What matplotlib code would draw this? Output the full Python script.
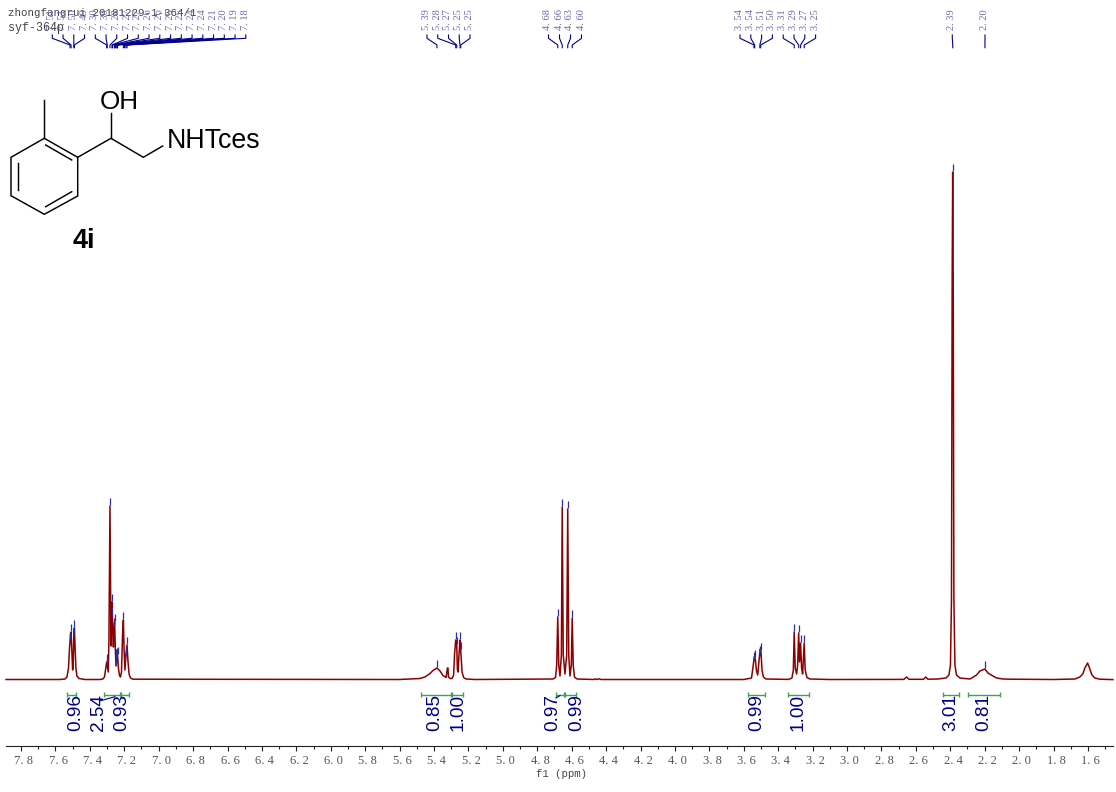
import matplotlib
matplotlib.use('Agg')
import matplotlib.pyplot as plt
from matplotlib.transforms import ScaledTranslation
import numpy as np

# trazas, por zonas (ppm, altura sobre la linea base)
ppm_a = [7.887, 7.573, 7.544, 7.533, 7.524, 7.518, 7.512, 7.509, 7.505, 7.500, 7.497, 7.493, 7.490, 7.486, 7.481, 7.475, 7.463, 7.428, 7.341]
int_a = [0.5, 0.5, 1, 3, 12, 32, 46, 48, 30, 10, 14, 45, 52, 35, 12, 4, 1.5, 0.5, 0.5]
ppm_b = [7.324, 7.315, 7.309, 7.302, 7.293, 7.289, 7.285, 7.283, 7.280, 7.277, 7.274, 7.271, 7.267, 7.263, 7.260, 7.256, 7.252, 7.248, 7.243, 7.239, 7.234, 7.228, 7.222, 7.216, 7.210, 7.205, 7.201, 7.196, 7.190, 7.184, 7.178, 7.172, 7.164, 7.149]
int_b = [1, 3, 10, 18, 8, 40, 130, 174, 110, 34, 50, 78, 50, 33, 50, 58, 32, 14, 20, 25, 12, 5, 3, 8, 45, 60, 30, 10, 25, 35, 18, 6, 2, 0.8]
ppm_c = [5.60, 5.482, 5.453, 5.423, 5.406, 5.383, 5.365, 5.348, 5.330, 5.322, 5.319, 5.316, 5.306, 5.295, 5.286, 5.281, 5.274, 5.268, 5.264, 5.260, 5.255, 5.249, 5.245, 5.237, 5.228, 5.214, 5.162]
int_c = [0.5, 1.5, 3, 6.5, 9.5, 12, 9, 4.5, 2.5, 12, 12, 3, 1.5, 1.5, 5, 25, 40, 35, 10, 8, 25, 40, 30, 8, 2.5, 1, 0.5]
ppm_d = [4.709, 4.694, 4.687, 4.681, 4.675, 4.668, 4.660, 4.655, 4.649, 4.639, 4.629, 4.623, 4.617, 4.610, 4.602, 4.597, 4.591, 4.584, 4.569, 4.47, 4.462, 4.455, 4.44, 4.43]
int_d = [1, 2.5, 15, 63, 15, 4, 25, 173, 25, 6, 25, 171, 25, 4, 15, 62, 15, 3, 1, 0.5, 1.2, 0.5, 1.2, 0.5]
ppm_e = [3.60, 3.555, 3.547, 3.539, 3.533, 3.526, 3.519, 3.511, 3.504, 3.500, 3.494, 3.486, 3.471]
int_e = [0.5, 2, 12, 23, 21, 9, 5, 20, 31, 28, 10, 3, 1]
ppm_f = [3.340, 3.320, 3.312, 3.307, 3.301, 3.293, 3.287, 3.281, 3.276, 3.270, 3.264, 3.258, 3.254, 3.249, 3.243, 3.233, 3.216, 3.10]
int_f = [0.6, 2, 10, 48, 12, 6, 15, 47, 18, 37, 12, 6, 20, 37, 10, 2.5, 1, 0.5]
ppm_g = [2.67, 2.654, 2.640, 2.555, 2.543, 2.530, 2.470, 2.450, 2.425, 2.408, 2.399, 2.393, 2.389, 2.386, 2.383, 2.379, 2.373, 2.364, 2.344, 2.315]
int_g = [0.6, 3, 0.7, 0.7, 3, 0.8, 1, 1.5, 2, 5, 15, 80, 400, 508, 400, 80, 15, 5, 2, 1.5]
ppm_h = [2.286, 2.247, 2.228, 2.199, 2.181, 2.152, 2.131, 2.094, 2.053]
int_h = [1, 5, 9, 11, 7, 4, 2, 1, 0.8]
ppm_i = [1.80, 1.676, 1.647, 1.630, 1.618, 1.602, 1.589, 1.577, 1.560, 1.531, 1.455]
int_i = [0.5, 1, 3, 6, 12, 17, 11, 5, 2, 0.8, 0.4]

# picos marcados y sus etiquetas, por grupos
peaks_1 = [7.515, 7.509, 7.493, 7.490]
labels_1 = ['7.51', '7.51', '7.50', '7.49']
peaks_2 = [7.302, 7.299, 7.283, 7.271, 7.269, 7.258, 7.256, 7.250, 7.247, 7.240, 7.239, 7.205, 7.198, 7.190, 7.184]
labels_2 = ['7.30', '7.30', '7.28', '7.27', '7.27', '7.26', '7.26', '7.25', '7.25', '7.24', '7.24', '7.21', '7.20', '7.19', '7.18']
peaks_3 = [5.383, 5.274, 5.268, 5.249, 5.245]
labels_3 = ['5.39', '5.28', '5.27', '5.25', '5.25']
peaks_4 = [4.681, 4.655, 4.623, 4.597]
labels_4 = ['4.68', '4.66', '4.63', '4.60']
peaks_5 = [3.541, 3.537, 3.507, 3.502, 3.307, 3.281, 3.270, 3.249]
labels_5 = ['3.54', '3.54', '3.51', '3.50', '3.31', '3.29', '3.27', '3.25']
peaks_6 = [2.386, 2.199]
labels_6 = ['2.39', '2.20']

# integrales
int_start = [7.531, 7.319, 7.219, 5.476, 5.296, 4.693, 4.639, 3.576, 3.345, 2.443, 2.299]
int_end = [7.480, 7.225, 7.172, 5.303, 5.234, 4.645, 4.577, 3.477, 3.223, 2.350, 2.110]
int_values = ['0.96', '2.54', '0.93', '0.85', '1.00', '0.97', '0.99', '0.99', '1.00', '3.01', '0.81']

major_ticks = np.round(np.arange(7.8, 1.5, -0.2), 1)
minor_ticks = np.round(np.arange(7.7, 1.45, -0.2), 1)

RED = '#8b0000'
NAVY = '#00008b'
GREEN = '#3aa655'
SERIF = ['Liberation Serif', 'DejaVu Serif']
MONO = ['Liberation Mono', 'DejaVu Sans Mono']
SANS = ['Liberation Sans', 'DejaVu Sans']

def to_px(p):
    return 21 + (7.8 - p) * 172.1

fig = plt.figure(figsize=(11.16, 7.92), dpi=100)

# ejes de datos: x en ppm, y en altura sobre la linea base
ax = fig.add_axes([0, 0, 1, 1])
ax.patch.set_alpha(0)
ax.set_xlim(7.922, 1.437)
ax.set_ylim(-112, 680)

trace_ppm = np.array(ppm_a + ppm_b + ppm_c + ppm_d + ppm_e + ppm_f + ppm_g + ppm_h + ppm_i)
trace_int = np.array(int_a + int_b + int_c + int_d + int_e + int_f + int_g + int_h + int_i)
ax.plot(trace_ppm, trace_int, color=RED, lw=1.1, solid_joinstyle='round')

# marcas azules encima de cada pico
all_peaks = np.array(peaks_1 + peaks_2 + peaks_3 + peaks_4 + peaks_5 + peaks_6)
tops = np.interp(all_peaks, trace_ppm[::-1], trace_int[::-1])
ax.vlines(all_peaks, tops + 1, tops + 8, color='#2a2fa8', lw=0.9)

# barras de integracion
ax.hlines([-14.5] * len(int_start), int_start, int_end, color=GREEN, lw=1)
ax.vlines(int_start + int_end, -17, -12, color=GREEN, lw=1)

# eje inferior
for name in ['left', 'right', 'top']:
    ax.spines[name].set_visible(False)
ax.spines['bottom'].set_position(('data', -66))
ax.spines['bottom'].set_bounds(7.887, 1.455)
ax.spines['bottom'].set_linewidth(0.8)
ax.spines['bottom'].set_color('#222222')
ax.set_yticks([])
ax.set_xticks(major_ticks)
ax.set_xticks(minor_ticks, minor=True)
ax.set_xticklabels([f'{t:.1f}'.replace('.', '. ') for t in major_ticks], fontfamily=SERIF, fontsize=9, color='#555555')
ax.tick_params(axis='x', which='major', length=3.8, width=0.8, pad=3, color='#222222')
ax.tick_params(axis='x', which='minor', length=2.4, width=0.8, color='#222222')
shift = ScaledTranslation(2.7 / 100, 0, fig.dpi_scale_trans)
for lab in ax.get_xticklabels():
    lab.set_transform(lab.get_transform() + shift)

# capa en pixeles para textos, conectores y la molecula
pa = fig.add_axes([0, 0, 1, 1])
pa.set_xlim(0, 1116)
pa.set_ylim(792, 0)
pa.axis('off')

pa.text(561, 774, 'f1 (ppm)', family=MONO, fontsize=7.7, color='#444444', ha='center', va='center')
pa.text(8, 13, 'zhongfangrui 20181229-1-364/1', family=MONO, fontsize=7.75, color='#444444', va='center')
pa.text(8, 28, 'syf-364p', family=MONO, fontsize=8.4, color='#444444', va='center')

# etiquetas de picos con sus conectores
def peak_group(labels, peaks, first_x, step):
    for i, (lab, p) in enumerate(zip(labels, peaks)):
        x = first_x + i * step
        target = to_px(p)
        pa.plot([x, x, target, target], [35, 38.3, 45, 47.7], color=NAVY, lw=0.8)
        pa.text(x - 0.5, 30, lab.replace('.', '. '), family=SERIF, fontsize=7.5, color='#6a6ab0',
                rotation=90, ha='center', va='bottom')

peak_group(labels_1 + labels_2, peaks_1 + peaks_2, 52.3, 10.75)
peak_group(labels_3, peaks_3, 427, 10.75)
peak_group(labels_4, peaks_4, 548.5, 11)
peak_group(labels_5, peaks_5, 740, 10.8)
peak_group(labels_6[:1], peaks_6[:1], 952.3, 0)
peak_group(labels_6[1:], peaks_6[1:], 985, 0)

# valores de integral
value_x = [75.3, 98.7, 121.3, 434.7, 458, 552.7, 577, 757, 797.7, 951.3, 983.7]
for x, val in zip(value_x, int_values):
    pa.text(x, 731, val, family=SANS, fontsize=13.7, color=NAVY, rotation=90, ha='center', va='bottom')
pa.plot([100.7, 115], [700.7, 696.7], color=NAVY, lw=0.8)
pa.plot([556, 560], [698, 695.5], color=NAVY, lw=0.8)

# molecula 4i
bonds = [
    [(44.3, 138.3), (77.7, 157.3), (77.7, 196), (44.3, 214.3), (11, 195.7), (11, 157.3), (44.3, 138.3)],
    [(45.7, 145), (71.7, 160)],
    [(45.7, 206.7), (71.7, 191.7)],
    [(18.3, 163.3), (18.3, 190)],
    [(44.3, 138.3), (44.3, 100)],
    [(77.7, 157.3), (111, 138.3), (143.3, 157.3), (162.7, 146)],
    [(111, 138.3), (111, 113.3)],
]
for b in bonds:
    xs, ys = zip(*b)
    pa.plot(xs, ys, color='black', lw=1.05, solid_joinstyle='miter')
pa.text(119.8, 102, 'OH', family=SANS, fontsize=18.8, ha='center', va='center')
pa.text(166.5, 140.5, 'NHTces', family=SANS, fontsize=19.3, ha='left', va='center')
pa.text(83.5, 241, '4i', family=SANS, fontsize=19.5, fontweight='bold', ha='center', va='center')

fig.savefig('out.png', dpi=100)
